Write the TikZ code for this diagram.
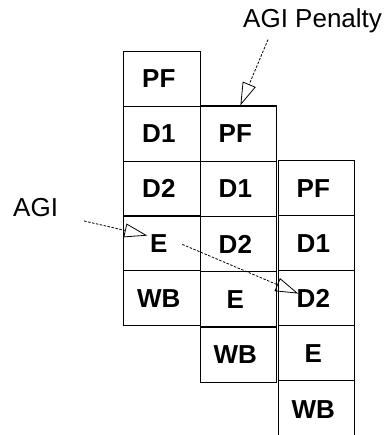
\documentclass[tikz,border=0pt]{standalone}
\usepackage{fontspec}
\setmainfont{Liberation Sans}
\usetikzlibrary{arrows.meta}
\newcommand{\lft}[1]{\hspace*{-6pt}#1}
\tikzset{
  cell/.style={draw, line width=1.2pt, minimum width=76.5pt, inner sep=0pt, anchor=north west,
    font=\bfseries\fontsize{26}{26}\selectfont},
  lbl/.style={inner sep=0pt, anchor=base west, font=\fontsize{26}{26}\selectfont},
  arr/.style={line width=0.8pt, dash pattern=on 2.5pt off 1.5pt,
    -{Triangle[open, length=23pt, width=14pt, line width=0.8pt]}}
}
\begin{document}
\begin{tikzpicture}[x=1pt,y=-1pt]
\useasboundingbox (0,0) rectangle (390,435);
% column 1
\node[cell, minimum height=54.8pt] (c1pf) at (123,51) {\lft{PF}};
\node[cell, minimum height=54.8pt] (c1d1) at (123,105.8) {\lft{D1}};
\node[cell, minimum height=54.8pt] (c1d2) at (123,160.6) {\lft{D2}};
\node[cell, minimum height=54.8pt] (c1e)  at (123,215.4) {\lft{E}};
\node[cell, minimum height=54.8pt] (c1wb) at (123,270.2) {\lft{WB}};
% column 2
\node[cell, minimum height=55.2pt] (c2pf) at (199.5,105.5) {\lft{PF}};
\node[cell, minimum height=55.2pt] (c2d1) at (199.5,160.7) {\lft{D1}};
\node[cell, minimum height=55.2pt] (c2d2) at (199.5,215.9) {\lft{D2}};
\node[cell, minimum height=55.2pt] (c2e)  at (199.5,271.1) {\lft{E}};
\node[cell, minimum height=55.2pt] (c2wb) at (199.5,326.3) {\lft{WB}};
% column 3
\node[cell, minimum height=55pt] (c3pf) at (277.5,160) {\lft{PF}};
\node[cell, minimum height=55pt] (c3d1) at (277.5,215) {\lft{D1}};
\node[cell, minimum height=55pt] (c3d2) at (277.5,270) {\lft{D2}};
\node[cell, minimum height=55pt] (c3e)  at (277.5,325) {\lft{E}};
\node[cell, minimum height=58pt] (c3wb) at (277.5,380) {\lft{WB}};
% labels
\node[lbl] (pen) at (243,28) {AGI Penalty};
\node[lbl] (agi) at (13,216) {AGI};
% arrows
\draw[arr] ([xshift=25pt,yshift=-6pt]pen.south west) -- ([xshift=2pt]c2pf.north);
\draw[arr] ([xshift=26pt,yshift=-5pt]agi.base east) -- ([xshift=-14.5pt,yshift=7.8pt]c1e.center);
\draw[arr] ([xshift=20.5pt,yshift=-1pt]c1e.center) -- ([xshift=-18pt,yshift=4.5pt]c3d2.center);
\end{tikzpicture}
\end{document}
